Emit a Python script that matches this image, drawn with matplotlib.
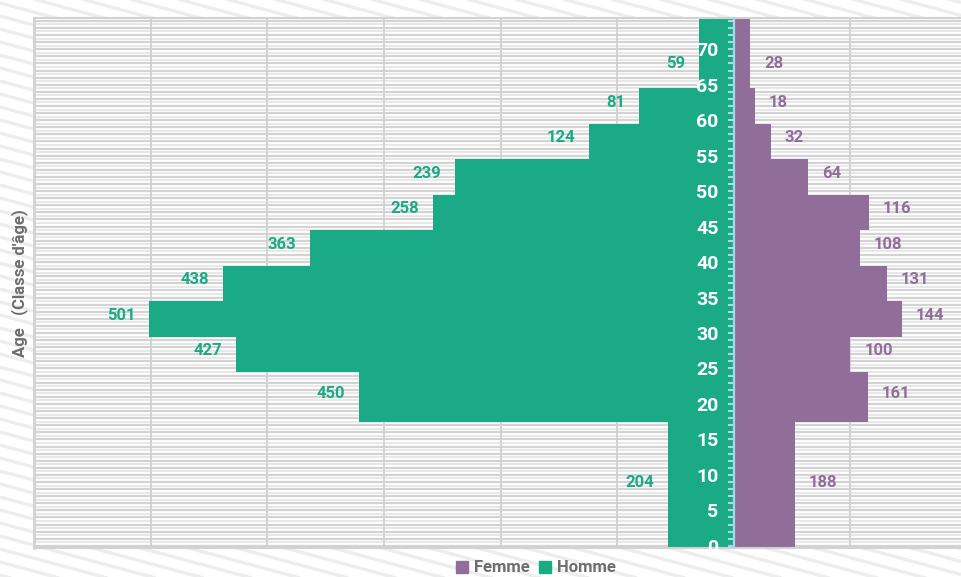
import numpy as np
import matplotlib
matplotlib.use("Agg")
import matplotlib.pyplot as plt
from matplotlib.patches import Patch

# ---- Data: age classes and counts ----
bin_edges = [-0.5, 17.5, 24.5, 29.5, 34.5, 39.5, 44.5, 49.5, 54.5, 59.5, 64.5, 74.5]
homme = [204, 450, 427, 501, 438, 363, 258, 239, 124, 81, 59]
femme = [188, 161, 100, 144, 131, 108, 116, 64, 32, 18, 28]
age_ticks = list(range(0, 71, 5))

GREEN = "#1aaa85"
PURPLE = "#916d99"
TICKBLUE = "#a6d8e6"
GREY_TXT = "#6e6e6e"
FONT = ["Liberation Sans Narrow", "Roboto", "DejaVu Sans"]

plt.rcParams["font.family"] = FONT
plt.rcParams["font.weight"] = "bold"

lo = np.array(bin_edges[:-1])
hi = np.array(bin_edges[1:])
widths = hi - lo
dens_h = np.array(homme) / widths
dens_f = np.array(femme) / widths

fig = plt.figure(figsize=(9.61, 5.77), dpi=100)
W, H = 961, 577

# ---- diagonal striped background ----
bg = fig.add_axes([0, 0, 1, 1], zorder=-5)
bg.set_xlim(0, W)
bg.set_ylim(0, H)
bg.axis("off")
xs = np.array([0, W])
for c in np.arange(-50, H + 0.27 * W + 50, 13):
    bg.plot(xs, c - 0.27 * xs, color="#ededed", lw=2.4, solid_capstyle="butt")

# ---- main axes ----
ax = fig.add_axes([34 / W, 1 - 548 / H, (967 - 34) / W, 530 / H])
ax.set_facecolor("white")
ax.set_xlim(-120, 40)
ax.set_ylim(-0.3, 74.4)

# horizontal stripes
for yv in np.arange(0, 75, 1.0):
    ax.axhline(yv, color="#d3d3d3", lw=1.6, zorder=0)
    ax.axhline(yv + 0.5, color="#e8e8e8", lw=1.4, zorder=0)
# vertical grid
for xv in range(-100, 40, 20):
    if xv != 0:
        ax.axvline(xv, color="#d0d0d0", lw=1.3, zorder=0.5)

ax.barh(lo, -dens_h, height=widths, align="edge", color=GREEN, zorder=2)
ax.barh(lo, dens_f, height=widths, align="edge", color=PURPLE, zorder=2)

# value labels
label_y = (lo + np.minimum(hi, 70.5)) / 2 + 0.5
for y, d, v in zip(label_y, dens_h, homme):
    ax.annotate(str(v), (-d, y), xytext=(-10, 0), textcoords="offset points",
                ha="right", va="center", color=GREEN, fontsize=12, fontweight="bold")
for y, d, v in zip(label_y, dens_f, femme):
    ax.annotate(str(v), (d, y), xytext=(10, 0), textcoords="offset points",
                ha="left", va="center", color=PURPLE, fontsize=12, fontweight="bold")

# center axis
ax.spines["left"].set_position(("data", 0))
ax.spines["left"].set_color(TICKBLUE)
ax.spines["left"].set_linewidth(1.6)
ax.spines["left"].set_zorder(3)
ax.spines["right"].set_visible(False)
for s in ("top", "bottom"):
    ax.spines[s].set_color("#d2d2d2")
    ax.spines[s].set_linewidth(1.5)
ax.axvline(-120, color="#d2d2d2", lw=2, clip_on=False, zorder=3)

ax.set_xticks([])
ax.set_yticks(age_ticks)
ax.set_yticks(np.arange(0, 75, 1), minor=True)
ax.tick_params(axis="y", which="both", direction="out", length=4, width=1.5,
               color=TICKBLUE)
ax.tick_params(axis="y", which="major", pad=7, labelcolor="white", labelsize=14)
for t in ax.get_yticklabels():
    t.set_fontweight("bold")
ax.yaxis.set_zorder(3)
ax.set_axisbelow(False)

# axis title
fig.text(20 / W, 1 - 283 / H, "Age   (Classe d'âge)", rotation=90, ha="center",
         va="center", color=GREY_TXT, fontsize=12, fontweight="bold")

# legend
handles = [Patch(color=PURPLE, label="Femme"), Patch(color=GREEN, label="Homme")]
leg = fig.legend(handles=handles, loc="center", ncol=2,
                 bbox_to_anchor=(536 / W, 1 - 568 / H), frameon=False,
                 handlelength=0.7, handleheight=0.7, handletextpad=0.35,
                 columnspacing=0.6, prop={"size": 12, "weight": "bold"})
for t in leg.get_texts():
    t.set_color(GREY_TXT)

fig.savefig("out.png", dpi=100)
